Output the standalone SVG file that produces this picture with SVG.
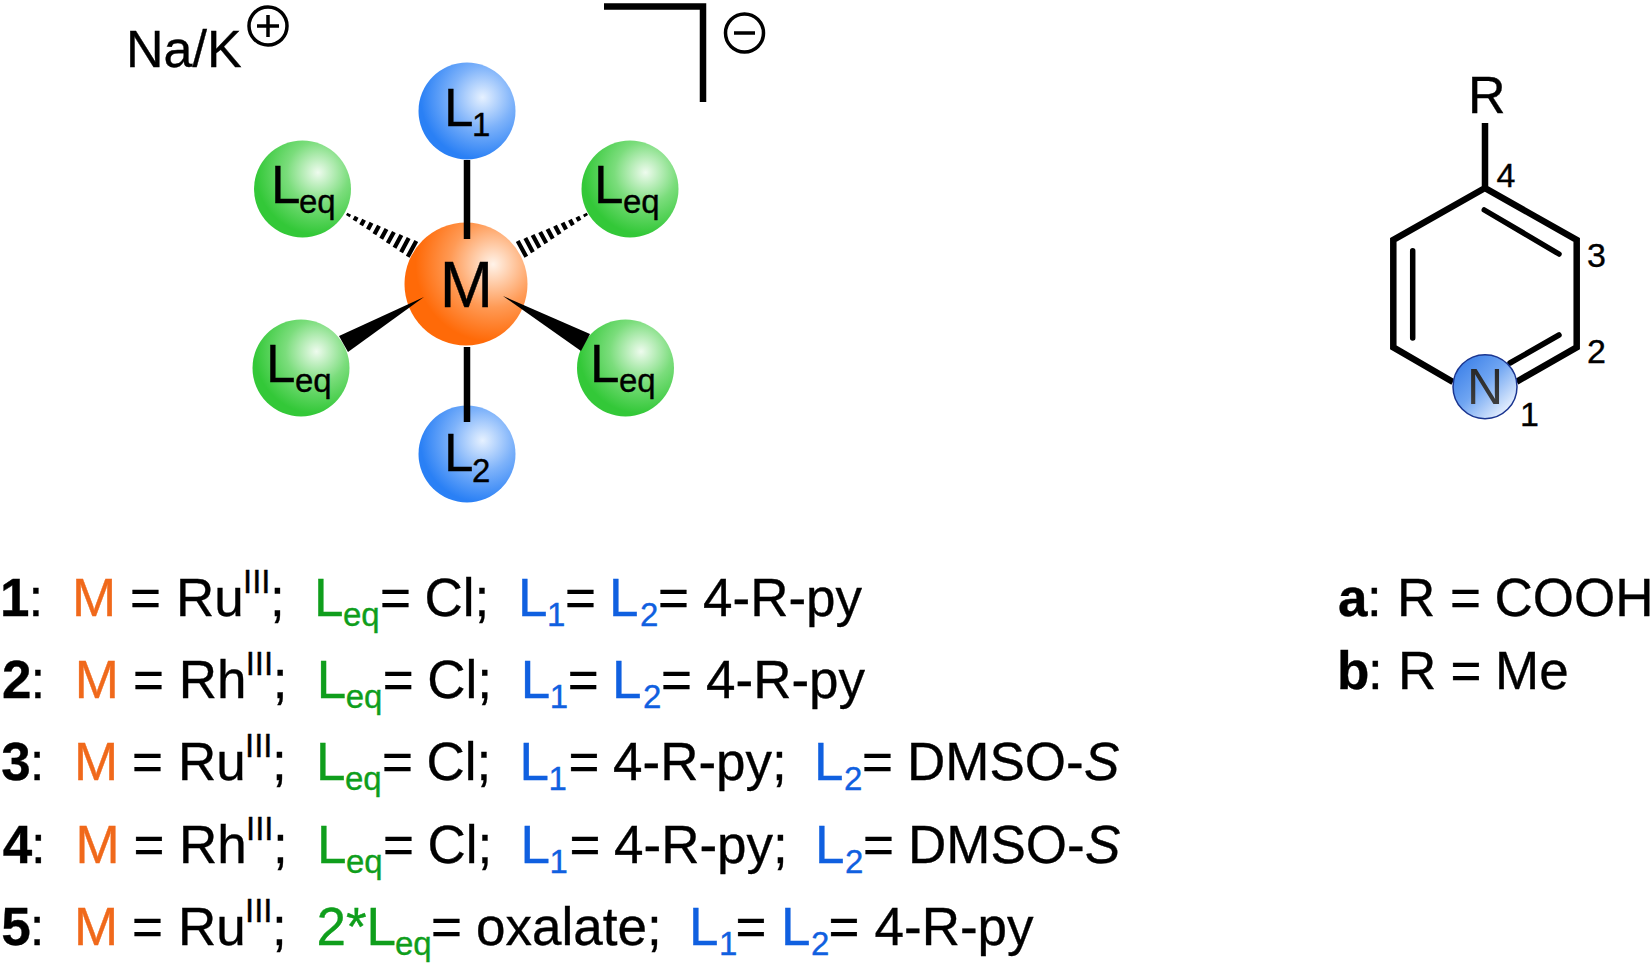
<svg xmlns="http://www.w3.org/2000/svg" width="1652" height="966" viewBox="0 0 1652 966">
<style>
text{font-family:"Liberation Sans",Arial,sans-serif;font-size:53px;fill:#000;stroke:#000;stroke-width:.35}
.s{font-size:33px}
.o{fill:#F0691B;stroke:#F0691B}.g{fill:#0F9E1C;stroke:#0F9E1C}.b{fill:#1060E0;stroke:#1060E0}
.B{font-weight:700}
.n{font-size:34px}
.bond{stroke:#000;stroke-width:6.500;fill:none}
.in{stroke:#000;stroke-width:5.500;fill:none;stroke-linecap:round}
.hash{stroke:#000;stroke-width:4.200;fill:none}
.sign{stroke:#000;stroke-width:3.500;fill:none}
</style>
<defs>
<radialGradient id="gb" cx="0.66" cy="0.36" r="0.64"><stop offset="0" stop-color="#E6F1FF"/><stop offset="0.5" stop-color="#7DB2FA"/><stop offset="1" stop-color="#2A80F5"/></radialGradient>
<radialGradient id="gg" cx="0.66" cy="0.33" r="0.64"><stop offset="0" stop-color="#EEFBEE"/><stop offset="0.5" stop-color="#7BDD7C"/><stop offset="1" stop-color="#33C838"/></radialGradient>
<radialGradient id="go" cx="0.72" cy="0.34" r="0.7"><stop offset="0" stop-color="#FFF3E9"/><stop offset="0.5" stop-color="#FF9A55"/><stop offset="0.9" stop-color="#FF6A08"/></radialGradient>
<linearGradient id="gn" x1="0.1" y1="0.1" x2="0.9" y2="0.9"><stop offset="0" stop-color="#3C80E8"/><stop offset="0.45" stop-color="#6FA5F2"/><stop offset="1" stop-color="#F2F7FF"/></linearGradient>
<linearGradient id="gt" x1="0" y1="0" x2="0" y2="1"><stop offset="0" stop-color="#222"/><stop offset="1" stop-color="#444"/></linearGradient>
</defs>

<g id="counterion">
<text x="126" y="67" style="font-size:52px">Na/K</text>
<circle class="sign" cx="268" cy="26" r="19"/>
<path class="sign" d="M257 26H279M268 15V37"/>
</g>
<g id="bracket">
<path class="bond" d="M604 6.500H703V102"/>
<circle class="sign" cx="744.500" cy="33" r="19"/>
<path class="sign" d="M734 33H755"/>
</g>

<g id="node-L1"><circle cx="467" cy="111" r="48.500" fill="url(#gb)"/><text x="444" y="126">L</text><text class="s" x="472" y="136">1</text></g>
<g id="node-L2"><circle cx="467" cy="454" r="48.500" fill="url(#gb)"/><text x="444" y="471">L</text><text class="s" x="472" y="482">2</text></g>
<g id="node-Leq-ul"><circle cx="302.500" cy="189" r="48.500" fill="url(#gg)"/><text x="271" y="203">L</text><text class="s" x="299" y="213">eq</text></g>
<g id="node-Leq-ur"><circle cx="630" cy="189" r="48.500" fill="url(#gg)"/><text x="594" y="203">L</text><text class="s" x="623" y="213">eq</text></g>
<g id="node-Leq-ll"><circle cx="301" cy="368" r="48.500" fill="url(#gg)"/><text x="266" y="382">L</text><text class="s" x="295" y="392">eq</text></g>
<g id="node-Leq-lr"><circle cx="625.500" cy="368" r="48.500" fill="url(#gg)"/><text x="590" y="382">L</text><text class="s" x="619" y="392">eq</text></g>
<g id="node-M"><circle cx="466" cy="284" r="61.500" fill="url(#go)"/><text x="466.500" y="307" text-anchor="middle" style="font-size:64px">M</text></g>

<g id="connectors">
<path class="bond" d="M467 160V239M467 347V422"/>
<path class="hash" d="M347.800 216.100L349.200 213.700M354.500 220.700L356.700 216.700M361.100 225.200L364.100 219.800M367.900 229.600L371.500 222.800M374.400 234.200L379 225.800M381.200 238.700L386.500 228.900M387.700 243.300L393.900 231.900M394.500 247.800L401.400 235M401.100 252.300L408.700 238.100M407.700 256.800L416.300 241"/>
<path class="hash" transform="translate(934,0) scale(-1,1)" d="M347.800 216.100L349.200 213.700M354.500 220.700L356.700 216.700M361.100 225.200L364.100 219.800M367.900 229.600L371.500 222.800M374.400 234.200L379 225.800M381.200 238.700L386.500 228.900M387.700 243.300L393.900 231.900M394.500 247.800L401.400 235M401.100 252.300L408.700 238.100M407.700 256.800L416.300 241"/>
<polygon points="424,297 339,336 348,352"/>
<polygon points="503,296 590,334 581,351"/>
</g>

<g id="pyridine">
<path class="bond" stroke-linejoin="miter" d="M1485 123V188L1576.700 240V347.300L1516.700 381.700M1453 382L1393.300 347.300V240L1485 188"/>
<path class="in" d="M1484.300 210L1559 254M1412.700 250.700V338M1559 335L1510 363"/>
<text x="1468" y="112.700" style="font-size:52px">R</text>
<circle cx="1485" cy="386.700" r="32" fill="url(#gn)" stroke="#1A3590" stroke-width="1.500"/>
<text x="1485" y="404" text-anchor="middle" style="font-size:50px;fill:url(#gt);stroke:none">N</text>
<text class="n" x="1496.500" y="186.700">4</text>
<text class="n" x="1587" y="267">3</text>
<text class="n" x="1587" y="362.700">2</text>
<text class="n" x="1520" y="426">1</text>
</g>

<g id="row1">
<text y="615.700"><tspan class="B" x="0">1</tspan><tspan x="28.400">:</tspan><tspan class="o" x="72">M</tspan><tspan x="130">=</tspan><tspan x="176">Ru</tspan><tspan x="270">;</tspan><tspan class="g" x="314">L</tspan><tspan x="380">=</tspan><tspan x="424.500">Cl;</tspan><tspan class="b" x="518">L</tspan><tspan x="565">=</tspan><tspan class="b" x="609">L</tspan><tspan x="658">=</tspan><tspan x="703">4-R-py</tspan></text>
<text class="s" x="243" y="593">III</text><text class="s g" x="343" y="626">eq</text><text class="s b" x="547" y="626">1</text><text class="s b" x="640" y="626">2</text>
</g>
<g id="row2">
<text y="697.700"><tspan class="B" x="2">2</tspan><tspan x="30.400">:</tspan><tspan class="o" x="74.700">M</tspan><tspan x="133">=</tspan><tspan x="178.700">Rh</tspan><tspan x="272.700">;</tspan><tspan class="g" x="316.700">L</tspan><tspan x="382.700">=</tspan><tspan x="427.200">Cl;</tspan><tspan class="b" x="520.700">L</tspan><tspan x="567.700">=</tspan><tspan class="b" x="612">L</tspan><tspan x="661">=</tspan><tspan x="706">4-R-py</tspan></text>
<text class="s" x="245.700" y="675">III</text><text class="s g" x="345.700" y="708">eq</text><text class="s b" x="549.700" y="708">1</text><text class="s b" x="643" y="708">2</text>
</g>
<g id="row3">
<text y="780"><tspan class="B" x="1.300">3</tspan><tspan x="29.700">:</tspan><tspan class="o" x="74">M</tspan><tspan x="132">=</tspan><tspan x="178">Ru</tspan><tspan x="272">;</tspan><tspan class="g" x="316">L</tspan><tspan x="382">=</tspan><tspan x="426.500">Cl;</tspan><tspan class="b" x="519.500">L</tspan><tspan x="568.500">=</tspan><tspan x="613">4-R-py;</tspan><tspan class="b" x="814">L</tspan><tspan x="862">=</tspan><tspan x="907">DMSO-</tspan><tspan font-style="italic" x="1084">S</tspan></text>
<text class="s" x="245" y="757">III</text><text class="s g" x="345" y="790">eq</text><text class="s b" x="548.500" y="790">1</text><text class="s b" x="844" y="790">2</text>
</g>
<g id="row4">
<text y="862.700"><tspan class="B" x="2.700">4</tspan><tspan x="31.100">:</tspan><tspan class="o" x="75.400">M</tspan><tspan x="133.400">=</tspan><tspan x="179">Rh</tspan><tspan x="273">;</tspan><tspan class="g" x="317">L</tspan><tspan x="383">=</tspan><tspan x="427.500">Cl;</tspan><tspan class="b" x="520.500">L</tspan><tspan x="569.500">=</tspan><tspan x="614">4-R-py;</tspan><tspan class="b" x="815">L</tspan><tspan x="863">=</tspan><tspan x="908">DMSO-</tspan><tspan font-style="italic" x="1085">S</tspan></text>
<text class="s" x="246" y="840">III</text><text class="s g" x="346" y="873">eq</text><text class="s b" x="549.500" y="873">1</text><text class="s b" x="845" y="873">2</text>
</g>
<g id="row5">
<text y="945"><tspan class="B" x="1.300">5</tspan><tspan x="29.700">:</tspan><tspan class="o" x="74">M</tspan><tspan x="132">=</tspan><tspan x="178">Ru</tspan><tspan x="272">;</tspan><tspan class="g" x="316.500">2*L</tspan><tspan x="431">=</tspan><tspan x="476">oxalate;</tspan><tspan class="b" x="689">L</tspan><tspan x="735.500">=</tspan><tspan class="b" x="781">L</tspan><tspan x="828.500">=</tspan><tspan x="874.500">4-R-py</tspan></text>
<text class="s" x="245" y="922">III</text><text class="s g" x="395" y="955">eq</text><text class="s b" x="719" y="955">1</text><text class="s b" x="811" y="955">2</text>
</g>
<g id="legend">
<text y="615.700"><tspan class="B" x="1338">a</tspan><tspan x="1367">:</tspan><tspan x="1397">R</tspan><tspan x="1450">=</tspan><tspan x="1494.500">COOH</tspan></text>
<text y="689"><tspan class="B" x="1337">b</tspan><tspan x="1368">:</tspan><tspan x="1398">R</tspan><tspan x="1450.500">=</tspan><tspan x="1495">Me</tspan></text>
</g>
</svg>
